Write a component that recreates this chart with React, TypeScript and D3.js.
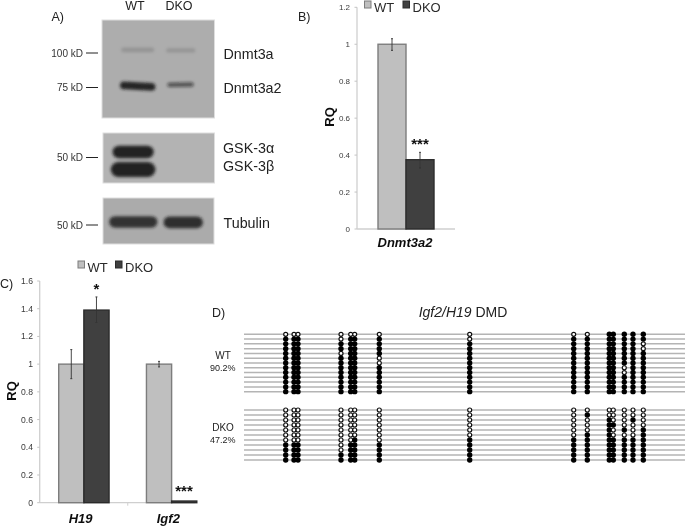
import React from "react";
import * as d3 from "d3";

const FONT = "Liberation Sans, Arial, sans-serif";
const seriesNames = ["WT", "DKO"];
const barFill: Record<string, string> = { WT: "#bfbfbf", DKO: "#404040" };
const barStroke: Record<string, string> = { WT: "#7d7d7d", DKO: "#2b2b2b" };

const ticksB = [0, 0.2, 0.4, 0.6, 0.8, 1, 1.2];
const ticksC = [0, 0.2, 0.4, 0.6, 0.8, 1, 1.2, 1.4, 1.6];

const categoriesB = ["Dnmt3a2"];
const valuesBWT = [1];
const valuesBDKO = [0.375];
const errBWT = [[0.967, 1.03]];
const errBDKO = [[0.33, 0.415]];

const categoriesC = ["H19", "Igf2"];
const valuesCWT = [1, 1];
const valuesCDKO = [1.39, 0.012];
const errCWT = [[0.895, 1.105], [0.98, 1.02]];
const errCDKO = [[1.3, 1.485], null];
const starsC = ["*", "***"];

// Gel bands, in gel units (0-100 along each axis)
const gelDnmt = [
  { a: 17, b: 46.5, y: 30.5, h: 5, o: 0.14, t: 0 },
  { a: 57, b: 83, y: 31, h: 4.5, o: 0.14, t: 0 },
  { a: 16, b: 47.5, y: 67.5, h: 8, o: 0.9, t: 3 },
  { a: 58, b: 81.5, y: 66, h: 4.5, o: 0.6, t: -1 },
];
const gelGsk = [
  { a: 8.5, b: 45.5, y: 38, h: 25, o: 0.92, t: 0 },
  { a: 7, b: 47, y: 73, h: 30, o: 0.92, t: 0 },
];
const gelTub = [
  { a: 5.5, b: 49, y: 52, h: 25, o: 0.82, t: 0 },
  { a: 54.5, b: 90, y: 53, h: 26, o: 0.85, t: 0 },
];

// CpG positions along the DMD, read in picture units, and rows left unmethylated
const cpgSites = [285.7, 294, 298, 341, 350.7, 354.7, 379.3, 469.7, 573.7, 587.3, 609.3, 613.3, 624.3, 633, 643.3];
const wtRows = 13;
const dkoRows = 11;
const wtOpen = [[0], [0], [0], [0, 1, 4], [0], [0], [0, 5, 6], [0, 1], [0], [0], [], [], [7, 8], [], [2, 3]];
const dkoOpen = [
  [0, 1, 2, 3, 4, 5, 6], [0, 1, 2, 3, 4, 5, 6], [0, 1, 2, 3, 4, 5, 6],
  [0, 1, 2, 3, 4, 5, 6, 7, 8], [0, 1, 2, 3, 4, 5, 6], [0, 1, 2, 3, 4, 5], [0, 1, 2, 3, 4, 5, 6],
  [0, 1, 2, 3, 4, 5], [0, 1, 2, 3, 4, 5], [0, 2, 3, 4],
  [0, 1], [0, 1, 2, 4, 5], [0, 1, 2, 3, 5], [0, 1, 3, 4, 5], [0, 1, 2, 3],
];

type Band = { a: number; b: number; y: number; h: number; o: number; t: number };

function Blot({ x0, x1, y0, y1, bands, fill }: { x0: number; x1: number; y0: number; y1: number; bands: Band[]; fill: string }) {
  const sx = d3.scaleLinear().domain([0, 100]).range([x0, x1]);
  const sy = d3.scaleLinear().domain([0, 100]).range([y0, y1]);
  return (
    <g>
      <rect x={x0} y={y0} width={x1 - x0} height={y1 - y0} fill={fill} stroke="#dedede" strokeWidth={1} />
      <g filter="url(#bandBlur)">
        {bands.map((b, i) => {
          const h = sy(b.h) - sy(0);
          const cx = (sx(b.a) + sx(b.b)) / 2;
          return (
            <rect
              key={i}
              x={sx(b.a)}
              y={sy(b.y) - h / 2}
              width={sx(b.b) - sx(b.a)}
              height={h}
              rx={h / 2}
              fill="#161616"
              fillOpacity={b.o}
              transform={`rotate(${b.t} ${cx} ${sy(b.y)})`}
            />
          );
        })}
      </g>
    </g>
  );
}

function Chart({ categories, wt, dko, errWt, errDko, ticks, domainMax, yTop, yBot, xAxis, bandRange, axisEnd, barPad, tickSize, labelX, catY, catSize, catShift }: any) {
  const y = d3.scaleLinear().domain([0, domainMax]).range([yBot, yTop]);
  const band = d3.scaleBand<string>().domain(categories).range(bandRange);
  const inner = d3.scaleBand<string>().domain(seriesNames).range([barPad, band.bandwidth() - barPad]);
  return (
    <g fontFamily={FONT}>
      <line x1={xAxis} x2={xAxis} y1={yTop} y2={yBot} stroke="#cfcfcf" strokeWidth={1.3} />
      <line x1={xAxis} x2={axisEnd} y1={yBot} y2={yBot} stroke="#cfcfcf" strokeWidth={1.3} />
      {ticks.map((t: number) => (
        <g key={t}>
          <line x1={xAxis - 2.5} x2={xAxis} y1={y(t)} y2={y(t)} stroke="#c4c4c4" />
          <text x={labelX} y={y(t) + 3} textAnchor="end" fontSize={tickSize} fill="#3a3a3a">{t}</text>
        </g>
      ))}
      {categories.slice(1).map((c: string) => (
        <line key={c} x1={band(c)!} x2={band(c)!} y1={yBot} y2={yBot + 3} stroke="#cfcfcf" />
      ))}
      {categories.map((c: string, i: number) =>
        seriesNames.map((s) => {
          const v = s === "WT" ? wt[i] : dko[i];
          const e = s === "WT" ? errWt[i] : errDko[i];
          const bx = band(c)! + inner(s)!;
          const w = inner.bandwidth();
          const cx = bx + w / 2;
          return (
            <g key={s}>
              <rect x={bx} y={y(v)} width={w} height={y(0) - y(v)} fill={barFill[s]} stroke={barStroke[s]} strokeWidth={1.4} />
              {e && (
                <g stroke="#333" strokeWidth={0.9}>
                  <line x1={cx} x2={cx} y1={y(e[0])} y2={y(e[1])} />
                  <line x1={cx - 1} x2={cx + 1} y1={y(e[0])} y2={y(e[0])} />
                  <line x1={cx - 1} x2={cx + 1} y1={y(e[1])} y2={y(e[1])} />
                </g>
              )}
            </g>
          );
        })
      )}
      {categories.map((c: string) => (
        <text key={c} x={band(c)! + band.bandwidth() / 2 + catShift} y={catY} textAnchor="middle" fontSize={catSize} fontWeight="bold" fontStyle="italic" fill="#111">{c}</text>
      ))}
    </g>
  );
}

function Legend({ x, y, gap }: { x: number; y: number; gap: number }) {
  return (
    <g fontFamily={FONT} fontSize={13} fill="#2a2a2a">
      {seriesNames.map((s, i) => (
        <g key={s} transform={`translate(${x + i * gap},${y})`}>
          <rect x={0} y={0} width={6.5} height={7} fill={barFill[s]} stroke={barStroke[s]} />
          <text x={9.5} y={10.8}>{s}</text>
        </g>
      ))}
    </g>
  );
}

function Methylation({ rows, open, yFirst, yStep }: { rows: number; open: number[][]; yFirst: number; yStep: number }) {
  const rowIdx = d3.range(rows);
  const y = d3.scaleLinear().domain([0, 1]).range([yFirst, yFirst + yStep]);
  return (
    <g>
      {rowIdx.map((r) => (
        <line key={r} x1={244} x2={685} y1={y(r)} y2={y(r)} stroke="#b4b4b4" strokeWidth={1.5} />
      ))}
      {cpgSites.map((cx, c) =>
        rowIdx.map((r) => {
          const isOpen = open[c].includes(r);
          return (
            <circle
              key={`${c}-${r}`}
              cx={cx}
              cy={y(r)}
              r={isOpen ? 2 : 2.7}
              fill={isOpen ? "#fff" : "#000"}
              stroke={isOpen ? "#111" : "none"}
              strokeWidth={1.2}
            />
          );
        })
      )}
    </g>
  );
}

export default function App() {
  return (
    <svg width={685} height={528} viewBox="0 0 685 528" style={{ position: "fixed", left: 0, top: 0, background: "#fff" }}>
      <defs>
        <filter id="bandBlur" x="-20%" y="-50%" width="140%" height="200%">
          <feGaussianBlur stdDeviation={1.4} />
        </filter>
        <filter id="soft" x="0" y="0" width="100%" height="100%">
          <feGaussianBlur stdDeviation={0.35} />
        </filter>
      </defs>
      <g filter="url(#soft)">
        <rect x={0} y={0} width={685} height={528} fill="#fff" />
        {/* Panel A */}
        <g fontFamily={FONT} fill="#222">
          <text x={51.5} y={21} fontSize={12.5}>A)</text>
          <text x={135} y={10} fontSize={12.5} textAnchor="middle">WT</text>
          <text x={179} y={10} fontSize={12.5} textAnchor="middle">DKO</text>
          <Blot x0={102} x1={214.5} y0={20} y1={118} bands={gelDnmt} fill="#adadad" />
          <Blot x0={103} x1={214.5} y0={133} y1={183} bands={gelGsk} fill="#b3b3b3" />
          <Blot x0={103} x1={214} y0={198} y1={244} bands={gelTub} fill="#ababab" />
          {[
            ["100 kD", 53],
            ["75 kD", 87.5],
            ["50 kD", 157.5],
            ["50 kD", 225],
          ].map(([t, yy], i) => (
            <g key={i}>
              <text x={83} y={(yy as number) + 3.5} fontSize={10} textAnchor="end" fill="#333">{t}</text>
              <line x1={86} x2={98} y1={yy as number} y2={yy as number} stroke="#222" strokeWidth={1} />
            </g>
          ))}
          <g fontSize={14.3}>
            <text x={223.5} y={59}>Dnmt3a</text>
            <text x={223.5} y={93}>Dnmt3a2</text>
            <text x={223} y={152.5}>GSK-3α</text>
            <text x={223} y={171}>GSK-3β</text>
            <text x={223.5} y={228}>Tubulin</text>
          </g>
        </g>
        {/* Panel B */}
        <text x={298} y={21} fontFamily={FONT} fontSize={12.5} fill="#222">B)</text>
        <Legend x={364.5} y={1} gap={38.5} />
        <Chart categories={categoriesB} wt={valuesBWT} dko={valuesBDKO} errWt={errBWT} errDko={errBDKO} ticks={ticksB} domainMax={1.2} yTop={7.3} yBot={229} xAxis={357} bandRange={[357, 455]} axisEnd={455} barPad={21} tickSize={8} labelX={350} catY={247} catSize={13} catShift={-1} />
        <text transform="translate(334,117) rotate(-90)" textAnchor="middle" fontFamily={FONT} fontSize={13} fontWeight="bold" fill="#111">RQ</text>
        <text x={420} y={149} textAnchor="middle" fontFamily={FONT} fontSize={15} fontWeight="bold" fill="#111">***</text>
        {/* Panel C */}
        <text x={0} y={288} fontFamily={FONT} fontSize={12.5} fill="#222">C)</text>
        <Legend x={78} y={261} gap={37.5} />
        <Chart categories={categoriesC} wt={valuesCWT} dko={valuesCDKO} errWt={errCWT} errDko={errCDKO} ticks={ticksC} domainMax={1.6} yTop={281} yBot={502.7} xAxis={39.7} bandRange={[40, 215.5]} axisEnd={195} barPad={18.7} tickSize={8.6} labelX={33} catY={523} catSize={13} catShift={-3.3} />
        <text transform="translate(16,391) rotate(-90)" textAnchor="middle" fontFamily={FONT} fontSize={13} fontWeight="bold" fill="#111">RQ</text>
        <text x={96.5} y={294} textAnchor="middle" fontFamily={FONT} fontSize={15} fontWeight="bold" fill="#111">{starsC[0]}</text>
        <text x={184} y={495.5} textAnchor="middle" fontFamily={FONT} fontSize={15} fontWeight="bold" fill="#111">{starsC[1]}</text>
        {/* Panel D */}
        <g fontFamily={FONT} fill="#222">
          <text x={212} y={317} fontSize={12.5}>D)</text>
          <text x={463} y={317} fontSize={14} textAnchor="middle"><tspan fontStyle="italic">Igf2/H19</tspan> DMD</text>
          <text x={223} y={358.5} fontSize={10} textAnchor="middle">WT</text>
          <text x={222.8} y={370.5} fontSize={9} textAnchor="middle">90.2%</text>
          <text x={223} y={430.5} fontSize={10} textAnchor="middle">DKO</text>
          <text x={222.8} y={442.5} fontSize={9} textAnchor="middle">47.2%</text>
        </g>
        <Methylation rows={wtRows} open={wtOpen} yFirst={334.3} yStep={4.78} />
        <Methylation rows={dkoRows} open={dkoOpen} yFirst={410} yStep={5} />
      </g>
    </svg>
  );
}
